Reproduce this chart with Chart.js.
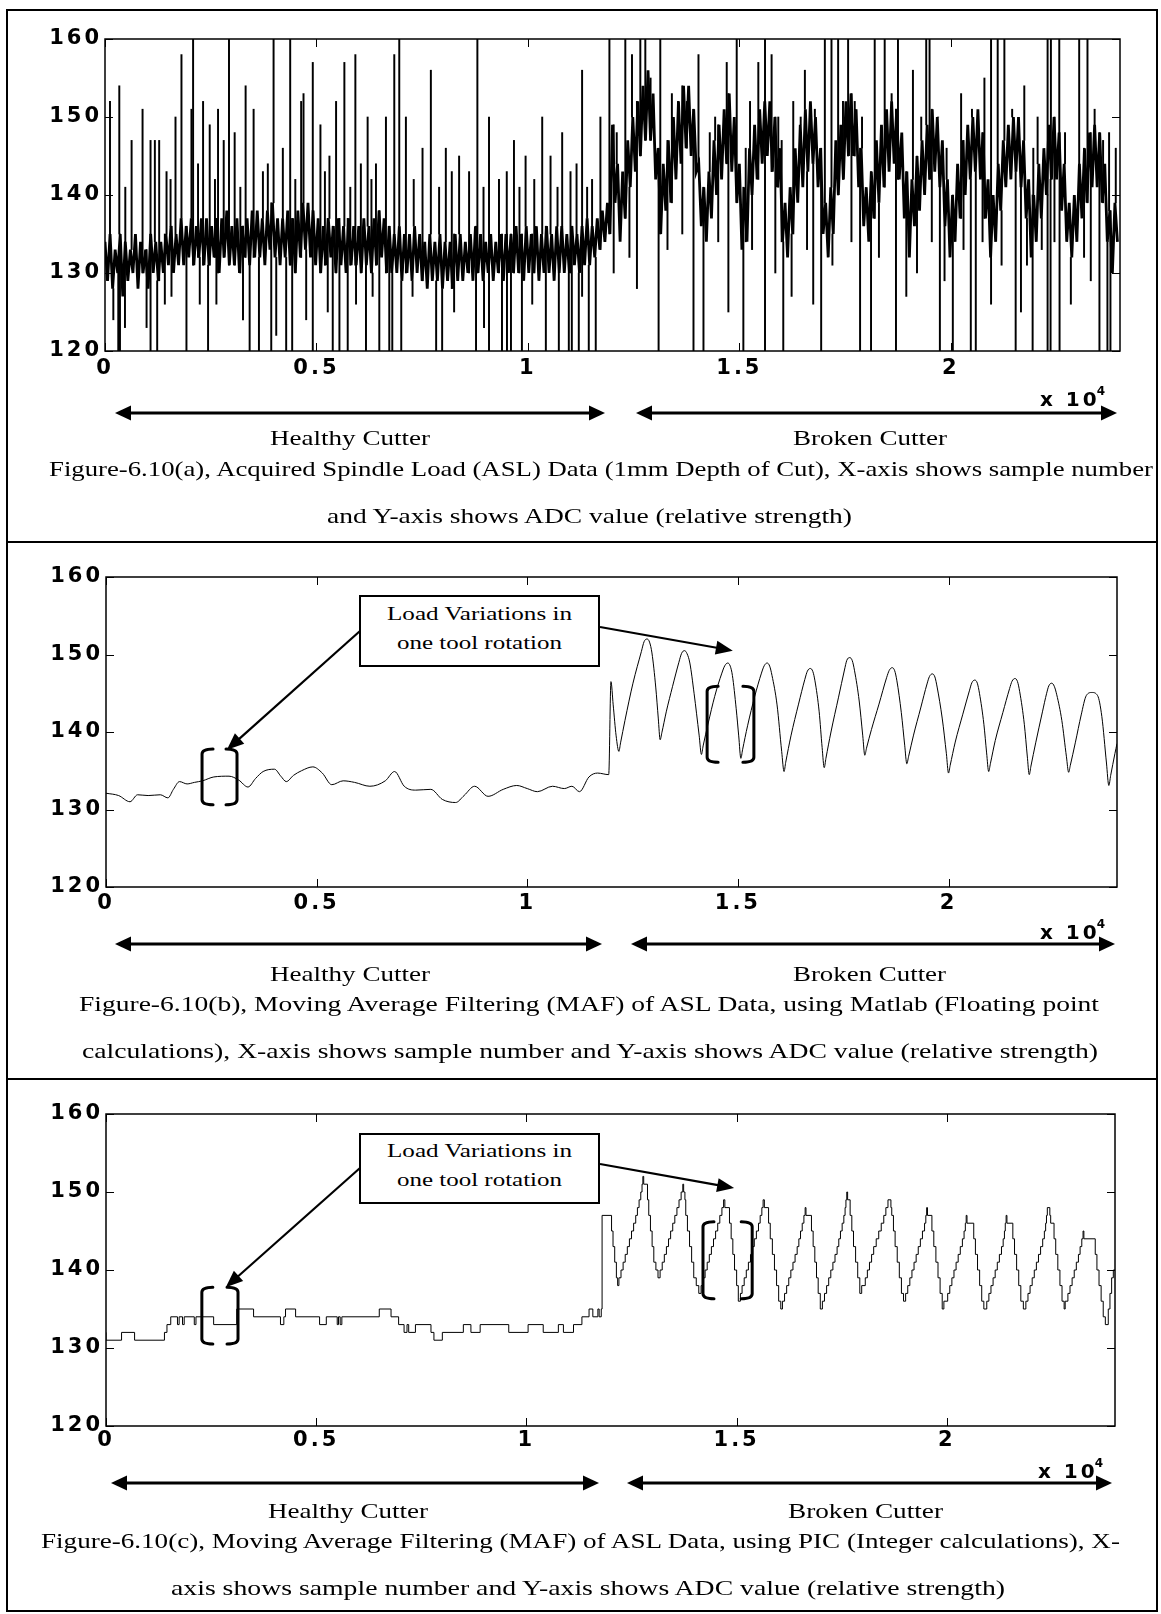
<!DOCTYPE html>
<html>
<head>
<meta charset="utf-8">
<script src="https://cdn.jsdelivr.net/npm/chart.js@4.4.1/dist/chart.umd.min.js"></script>
<style>
  html, body { margin: 0; padding: 0; background: #fff; }
  #page { position: relative; width: 1161px; height: 1614px; overflow: hidden; background: #fff; }
  #page canvas { position: absolute; left: 0; }
  .rule { position: absolute; background: #000; }
  .txt { position: absolute; white-space: nowrap; font-family: "Liberation Serif", "Times New Roman", serif; color: #000; line-height: 1; transform-origin: 0 50%; }
  .mult { position: absolute; white-space: nowrap; font-family: "DejaVu Sans", sans-serif; font-weight: bold; font-size: 20px; letter-spacing: 3px; line-height: 1; color: #000; }
  .mult sup { font-size: 12px; letter-spacing: 0; position: relative; top: -3px; margin-left: -3px; }
  .note { position: absolute; border: 2px solid #000; background: #fff; box-sizing: border-box; }
</style>
</head>
<body>
<div id="page">
  <canvas id="panelA"></canvas>
  <canvas id="panelB"></canvas>
  <canvas id="panelC"></canvas>
</div>
<script>
// ---------------- data ----------------
const sampleMax = 24000;
const xTickValues = [0, 5000, 10000, 15000, 20000];
const yTickValues = [120, 130, 140, 150, 160];

// (a) acquired spindle load: one reading every aStep samples
const aStep = 60;
const aCore = [
  134,129,135,128,133,130,135,127,134,129,133,130,135,128,134,130,133,128,135,130,
  134,129,134,130,135,131,136,130,135,131,137,131,136,132,137,131,136,132,137,131,
  137,131,136,132,137,130,137,132,138,131,136,131,137,130,136,132,137,131,138,132,
  138,132,137,131,138,133,139,132,137,131,137,132,138,131,137,130,138,132,139,133,
  139,132,138,131,137,130,136,131,137,132,136,130,137,131,136,130,137,131,136,131,
  136,130,137,131,136,130,137,131,138,132,137,130,136,130,135,130,136,129,135,130,
  135,129,136,130,135,129,134,128,135,129,134,129,135,128,134,129,134,128,135,129,
  135,129,134,130,135,129,136,130,135,129,134,130,135,129,134,130,135,129,135,130,
  135,130,136,130,135,129,136,130,135,130,136,129,135,130,136,130,135,129,136,130,
  136,130,135,130,136,131,135,130,136,131,137,131,136,132,137,133,138,134,139,135,
  149,139,144,134,143,137,147,141,150,143,152,145,154,147,156,147,153,142,146,135,
  144,138,147,139,150,142,152,144,154,146,154,145,151,143,144,136,141,134,143,137,
  147,140,149,142,151,144,153,143,150,139,144,133,141,134,146,140,149,142,151,144,
  152,145,152,143,150,141,146,134,139,132,141,135,146,139,149,141,151,143,152,144,
  150,141,146,135,139,132,141,135,147,140,149,142,152,145,153,145,151,141,146,136,
  141,134,143,137,147,139,149,141,151,143,152,144,151,142,148,137,143,132,142,136,
  145,138,147,140,149,142,151,143,150,141,147,136,142,132,140,134,144,137,147,140,
  149,142,150,143,151,142,148,137,142,132,140,134,144,138,147,141,149,142,150,143,
  150,141,147,137,142,132,140,134,144,137,146,140,149,142,150,142,148,138,144,134,
  139,132,140,134,144,137,146,139,148,141,149,141,148,139,144,134,138,130,139,134
];

// (a) isolated spikes: sample number and extreme reading
const aSpikeX = [
  // upward, healthy cutter
  118,338,480,629,888,1077,1179,1281,1455,1550,1667,1808,2044,2083,2200,2319,2476,2600,2673,2807,
  2932,3066,3200,3325,3514,3734,3850,3986,4205,4379,4500,4638,4694,4913,5094,5200,5307,5464,5660,5800,
  5920,6050,6210,6300,6407,6643,6840,6958,7115,7300,7508,7705,7900,8059,8200,8373,8609,8805,8950,9080,
  9316,9500,9670,9800,9945,10150,10338,10535,10700,10810,11007,11150,11281,11400,11517,11714,11927,
  // downward, healthy cutter
  197,314,354,472,983,1077,1234,1415,1572,1926,2241,2437,2634,3263,3420,3640,3931,4049,4284,4426,
  4757,4913,5267,5385,5543,5739,5936,6171,6328,6486,6722,6793,7005,7272,7830,7972,8255,8773,8962,9080,
  9387,9505,9599,9858,10102,10424,10731,10967,11038,11203,11281,11439,11604,
  // upward, broken cutter
  12100,12303,12461,12658,12776,12900,13130,13404,13550,13757,14033,14300,14427,14701,14937,15150,15252,15448,15606,15762,
  15920,16000,16274,16450,16549,16785,17021,17178,17335,17450,17571,17728,17900,18200,18436,18600,18750,19104,19300,19418,
  19497,19700,19900,20243,20500,20794,20951,21108,21266,21450,21737,21950,22052,22288,22366,22564,22700,23035,23231,23400,
  23600,23742,23900,
  // downward, broken cutter
  12028,12400,12578,13090,13300,13650,13915,14151,14500,14740,15094,15300,15606,15850,16038,16235,16600,16746,16934,17200,
  17650,17854,18113,18300,18703,18947,19200,19550,19741,19851,20047,20300,20472,20590,20750,20951,21200,21533,21658,21800,
  21934,22150,22288,22358,22450,22571,22838,23150,23309,23514,23703,23774
];
const aSpikeY = [
  152,154,141,147,151,147,147,147,143,142,150,158,151,160,144,152,149,142,151,147,
  160,148,141,154,151,143,144,160,146,160,142,152,153,157,149,143,145,152,157,141,
  158,144,150,142,144,150,158,160,150,142,146,156,141,146,143,145,143,160,141,150,
  142,143,147,141,145,142,150,145,141,148,143,144,156,141,142,150,160,
  124,120,120,123,123,120,120,126,127,120,126,120,126,124,120,120,120,122,120,120,
  124,120,125,120,120,120,126,120,127,120,120,120,120,127,120,120,125,120,123,120,
  120,120,120,120,126,120,120,120,120,120,127,120,120,
  148,160,158,160,160,155,160,153,151,152,158,148,150,157,160,146,152,157,160,158,
  150,147,152,150,156,151,160,160,160,152,160,152,150,160,160,153,160,156,150,160,
  160,150,146,153,151,155,160,160,160,151,154,146,150,160,160,160,148,160,160,151,
  147,148,146,
  130,132,128,120,133,135,120,120,134,125,120,133,120,130,120,127,133,126,120,131,
  134,120,120,132,120,127,130,134,120,129,120,133,120,120,134,126,131,120,125,131,
  120,133,120,120,134,120,126,132,129,120,120,120
];

// (b) moving average, floating point
const bX = [
  0,300,570,750,1000,1290,1470,1600,1745,1925,2100,2290,2560,2920,3150,3370,3550,3730,4000,4150,
  4280,4450,4640,4910,5135,5360,5630,5900,6265,6630,6850,7080,7350,7710,7985,8300,8500,8750,9070,9430,
  9750,10000,10240,10600,10880,11060,11240,11465,11670,11934,
  11987,12040,12110,12175,12215,12320,12510,12710,12773,12843,12903,12960,13050,13110,13155,
  13195,13300,13450,13600,13664,13734,13794,13860,13960,14080,14135,
  14175,14290,14450,14620,14689,14759,14819,14870,14960,15020,15071,
  15111,15230,15400,15560,15625,15695,15755,15810,15930,16040,16096,
  16136,16260,16440,16590,16650,16720,16780,16830,16930,17000,17050,
  17090,17210,17390,17530,17586,17656,17716,17770,17880,17965,18013,
  18053,18170,18350,18530,18593,18663,18723,18775,18880,18960,19011,
  19051,19170,19340,19490,19547,19617,19677,19730,19850,19950,20000,
  20040,20160,20340,20500,20554,20624,20684,20735,20840,20905,20954,
  20994,21110,21290,21450,21508,21578,21638,21690,21800,21870,21917,
  21957,22070,22230,22330,22381,22451,22511,22570,22690,22800,22852,
  22892,23010,23150,23271,23405,23539,23640,23750,23806,
  23850,23950,24000
];
const bY = [
  132.1,131.8,131.0,131.9,131.8,131.9,131.5,132.6,133.6,133.3,133.5,133.7,134.2,134.3,133.8,132.9,134.0,134.9,135.2,134.3,
  133.6,134.4,135.0,135.5,134.7,133.2,133.7,133.5,133.0,133.7,134.9,133.0,132.5,132.6,131.3,130.9,131.8,133.0,131.7,132.6,
  133.1,132.7,132.3,133.0,132.7,133.0,132.3,134.2,134.7,134.5,
  146.5,143.5,139.5,137.5,138.6,141.5,146.3,150.4,151.65,152.0,151.6,150.2,145.8,141.8,139.0,
  139.9,142.6,145.9,149.0,150.15,150.5,150.1,148.9,145.0,139.6,137.1,
  138.2,141.0,144.6,147.6,148.55,148.9,148.5,147.3,143.0,139.5,136.6,
  137.7,140.8,144.6,147.6,148.55,148.9,148.5,147.3,143.5,137.5,134.9,
  136.1,139.5,143.6,146.8,147.85,148.2,147.8,146.6,142.6,138.0,135.4,
  136.6,140.0,144.5,148.0,149.25,149.6,149.2,147.9,144.0,139.5,137.0,
  137.9,140.3,143.6,147.0,147.95,148.3,147.9,146.6,142.5,138.3,135.9,
  136.8,139.6,143.1,146.2,147.15,147.5,147.1,145.8,141.8,137.2,134.7,
  135.7,138.7,142.3,145.4,146.35,146.7,146.3,145.0,141.0,137.3,134.9,
  135.9,138.9,142.5,145.6,146.55,146.9,146.5,145.2,141.0,136.9,134.5,
  135.6,138.6,142.6,145.0,145.95,146.3,145.9,144.8,141.5,136.8,134.8,
  135.7,138.6,142.2,144.7,145.1,144.7,142.0,136.0,133.1,
  134.4,137.2,138.5
];

// (c) moving average, integer arithmetic (value holds until the next sample listed)
const cX = [
  0,370,680,1390,1450,1540,1700,1740,1820,1860,2100,2140,2560,3110,3510,4150,4230,4270,4510,5080,
  5240,5500,5530,5570,5610,6500,6780,6960,7090,7160,7200,7360,7730,7800,8000,8500,8680,8900,9580,10040,
  10400,10760,10880,11120,11320,11490,11580,11700,11730,11780,11800,
  12025,12060,12100,12140,12170,12200,12250,12300,12350,12400,12450,12500,12550,12600,12640,12680,12720,12750,12770,12790,
  12880,12910,12950,12990,13030,13080,13130,13180,13230,13280,13330,13380,13430,13480,13530,13580,13630,13680,13720,13740,
  13770,13790,13830,13880,13930,13980,14040,14100,14155,14200,14250,14300,14350,14400,14450,14500,14550,14600,14650,14690,
  14720,14830,14870,14910,14950,15000,15040,15090,15130,15180,15230,15280,15330,15380,15420,15470,15520,15560,15600,15630,
  15660,15760,15800,15850,15900,15950,16000,16050,16090,16140,16190,16240,16290,16340,16390,16440,16480,16520,16560,16600,
  16630,16650,16780,16820,16860,16900,16940,16990,17040,17090,17140,17190,17240,17290,17340,17390,17430,17470,17510,17550,
  17580,17600,17620,17640,17700,17740,17780,17830,17880,17930,17975,18060,18110,18160,18210,18260,18320,18380,18440,18500,
  18550,18600,18670,18690,18730,18770,18820,18870,18920,18970,19020,19070,19120,19170,19220,19270,19320,19370,19420,19470,
  19500,19520,19540,19645,19690,19740,19790,19840,19890,19930,20020,20070,20120,20170,20220,20270,20320,20370,20410,20440,
  20460,20480,20640,20680,20730,20780,20830,20880,20950,21000,21050,21100,21150,21200,21250,21300,21340,21370,21390,21410,
  21430,21570,21610,21660,21710,21760,21820,21880,21930,21980,22030,22080,22130,22180,22230,22280,22320,22350,22370,22390,
  22450,22470,22550,22590,22640,22690,22740,22790,22815,22880,22930,22980,23030,23080,23130,23170,23210,23240,23260,23530,
  23570,23620,23670,23720,23770,23840,23880,23920,23960,24000
];
const cY = [
  132,131,132,131,132,133,134,133,134,133,134,133,134,133,135,134,133,134,135,134,
  133,134,133,134,133,134,135,134,133,132,133,132,133,132,131,132,133,132,133,132,
  133,132,133,132,133,134,135,134,135,134,135,
  147,145,143,141,139,138,139,140,141,142,143,144,145,146,147,148,149,150,151,152,
  151,149,147,145,143,141,140,139,140,141,142,143,144,145,146,147,148,149,150,151,
  150,149,147,145,143,141,139,138,137,138,139,140,141,142,143,144,145,146,147,148,
  149,148,146,144,142,140,138,136,137,138,139,140,141,142,143,144,145,146,147,148,
  149,148,146,144,142,140,138,136,135,136,137,138,139,140,141,142,143,144,145,146,
  147,148,147,145,143,141,139,137,135,136,137,138,139,140,141,142,143,144,145,146,
  147,148,149,150,149,147,145,143,141,139,137,138,139,140,141,142,143,144,145,146,
  147,148,149,148,147,145,143,141,139,137,136,137,138,139,140,141,142,143,144,145,
  146,147,148,147,145,143,141,139,137,135,136,137,138,139,140,141,142,143,144,145,
  146,147,146,144,142,140,138,136,135,136,137,138,139,140,141,142,143,144,145,146,
  147,146,144,142,140,138,136,135,136,137,138,139,140,141,142,143,144,145,146,147,
  148,147,146,144,142,140,138,136,135,136,137,138,139,140,141,142,143,144,145,144,
  142,140,138,136,134,133,135,137,139,140
];

// ---------------- layout helpers ----------------
const page = document.getElementById('page');

function rule(x, y, w, h) {
  const d = document.createElement('div');
  d.className = 'rule';
  Object.assign(d.style, { left: x + 'px', top: y + 'px', width: w + 'px', height: h + 'px' });
  page.appendChild(d);
}

// serif text squeezed or stretched to span x0..x1, centred on cy
function placeText(str, x0, x1, cy, size) {
  const el = document.createElement('div');
  el.className = 'txt';
  el.style.fontSize = size + 'px';
  el.textContent = str;
  page.appendChild(el);
  const w = el.getBoundingClientRect().width;
  el.style.left = x0 + 'px';
  el.style.top = (cy - size / 2) + 'px';
  el.style.transform = 'scaleX(' + ((x1 - x0) / w).toFixed(4) + ')';
}

function placeMultiplier(x, cy) {
  const el = document.createElement('div');
  el.className = 'mult';
  el.innerHTML = 'x 10<sup>4</sup>';
  el.style.left = x + 'px';
  el.style.top = (cy - 10) + 'px';
  page.appendChild(el);
}

function placeNote(x, y, w, h, lines) {
  const d = document.createElement('div');
  d.className = 'note';
  Object.assign(d.style, { left: x + 'px', top: y + 'px', width: w + 'px', height: h + 'px' });
  page.appendChild(d);
  lines.forEach(l => placeText(l.text, l.x0, l.x1, l.cy, 19));
}

// ---------------- drawing helpers ----------------
function arrowHead(ctx, x0, y0, x1, y1, len, half) {
  const a = Math.atan2(y1 - y0, x1 - x0);
  ctx.beginPath();
  ctx.moveTo(x1, y1);
  ctx.lineTo(x1 - len * Math.cos(a) + half * Math.sin(a), y1 - len * Math.sin(a) - half * Math.cos(a));
  ctx.lineTo(x1 - len * Math.cos(a) - half * Math.sin(a), y1 - len * Math.sin(a) + half * Math.cos(a));
  ctx.closePath();
  ctx.fill();
}

function arrowLine(ctx, x0, y0, x1, y1, lw, len, half, both) {
  const a = Math.atan2(y1 - y0, x1 - x0);
  const sx = both ? x0 + (len - 2) * Math.cos(a) : x0;
  const sy = both ? y0 + (len - 2) * Math.sin(a) : y0;
  ctx.lineWidth = lw;
  ctx.beginPath();
  ctx.moveTo(sx, sy);
  ctx.lineTo(x1 - (len - 2) * Math.cos(a), y1 - (len - 2) * Math.sin(a));
  ctx.stroke();
  arrowHead(ctx, x0, y0, x1, y1, len, half);
  if (both) arrowHead(ctx, x1, y1, x0, y0, len, half);
}

const tickFont = { family: '"DejaVu Sans", sans-serif', size: 21, weight: 'bold' };

const tickSpacing = {
  id: 'tickSpacing',
  beforeDraw(chart) { chart.ctx.letterSpacing = '3px'; },
  afterDraw(chart) { chart.ctx.letterSpacing = '0px'; }
};

// axes box with inward ticks, plus the panel's bracket / arrow marks
function framePlugin(marks, canvasTop) {
  return {
    id: 'axesFrame',
    afterDatasetsDraw(chart) {
      const { ctx, chartArea: a, scales: { x, y } } = chart;
      ctx.save();
      ctx.strokeStyle = '#000';
      ctx.fillStyle = '#000';
      ctx.lineWidth = 1.5;
      ctx.strokeRect(a.left, a.top, a.right - a.left, a.bottom - a.top);
      const tl = 8;
      ctx.lineWidth = 1;
      ctx.beginPath();
      xTickValues.forEach(v => {
        const px = Math.round(x.getPixelForValue(v)) + 0.5;
        ctx.moveTo(px, a.bottom); ctx.lineTo(px, a.bottom - tl);
        ctx.moveTo(px, a.top); ctx.lineTo(px, a.top + tl);
      });
      yTickValues.forEach(v => {
        const py = Math.round(y.getPixelForValue(v)) + 0.5;
        ctx.moveTo(a.left, py); ctx.lineTo(a.left + tl, py);
        ctx.moveTo(a.right, py); ctx.lineTo(a.right - tl, py);
      });
      ctx.stroke();

      // square brackets around one tool rotation
      ctx.lineWidth = 3;
      ctx.lineCap = 'round';
      ctx.lineJoin = 'round';
      (marks.brackets || []).forEach(b => {
        const l = x.getPixelForValue(b.x0), r = x.getPixelForValue(b.x1);
        const t = y.getPixelForValue(b.top), bt = y.getPixelForValue(b.bottom);
        const arm = 11;
        ctx.beginPath();
        ctx.moveTo(l + arm, t); ctx.quadraticCurveTo(l, t, l, t + 5);
        ctx.lineTo(l, bt - 5); ctx.quadraticCurveTo(l, bt, l + arm, bt);
        ctx.moveTo(r - arm, t); ctx.quadraticCurveTo(r, t, r, t + 5);
        ctx.lineTo(r, bt - 5); ctx.quadraticCurveTo(r, bt, r - arm, bt);
        ctx.stroke();
      });

      // pointers from the note box to the brackets
      ctx.lineCap = 'butt';
      (marks.pointers || []).forEach(p => {
        const tx = x.getPixelForValue(p.tipX), ty = y.getPixelForValue(p.tipY);
        arrowLine(ctx, p.fromX, p.fromY - canvasTop, tx, ty, 2.2, 17, 7, false);
      });

      // Healthy / Broken spans under the axis
      (marks.spans || []).forEach(s => {
        arrowLine(ctx, s.x0, s.y - canvasTop, s.x1, s.y - canvasTop, 3, 16, 7.5, true);
      });
      ctx.restore();
    }
  };
}

function makePanel(id, top, height, plot, xLabelPad, datasets, marks) {
  const canvas = document.getElementById(id);
  canvas.width = 1161;
  canvas.height = height;
  canvas.style.width = '1161px';
  canvas.style.height = height + 'px';
  canvas.style.top = top + 'px';
  const xAxisH = 40;
  const padTop = plot.top - top;
  const padBottom = height - (plot.bottom - top) - xAxisH;
  return new Chart(canvas, {
    type: 'line',
    data: { datasets },
    options: {
      responsive: false,
      animation: false,
      devicePixelRatio: 1,
      events: [],
      layout: { padding: { left: 0, right: 1161 - plot.right, top: padTop, bottom: padBottom } },
      plugins: { legend: { display: false }, tooltip: { enabled: false } },
      scales: {
        x: {
          type: 'linear', min: 0, max: sampleMax, offset: false,
          afterBuildTicks: s => { s.ticks = xTickValues.map(v => ({ value: v })); },
          afterFit: s => { s.height = xAxisH; },
          grid: { display: false, drawTicks: false, offset: false },
          border: { display: false },
          ticks: { font: tickFont, color: '#000', padding: xLabelPad, maxRotation: 0, autoSkip: false,
                   callback: v => String(v / 10000) }
        },
        y: {
          type: 'linear', min: 120, max: 160, beginAtZero: false,
          afterBuildTicks: s => { s.ticks = yTickValues.map(v => ({ value: v })); },
          afterFit: s => { s.width = plot.left; },
          grid: { display: false, drawTicks: false },
          border: { display: false },
          ticks: { font: tickFont, color: '#000', padding: 3 }
        }
      }
    },
    plugins: [tickSpacing, framePlugin(marks, top)]
  });
}

const lineStyle = { borderColor: '#000', borderWidth: 1, pointRadius: 0, fill: false };

// ---------------- page frame ----------------
rule(6, 9, 1152, 2);       // top
rule(6, 9, 2, 1603);       // left
rule(1156, 9, 2, 1603);    // right
rule(6, 1610, 1152, 2);    // bottom
rule(6, 541, 1152, 2);     // between (a) and (b)
rule(6, 1078, 1152, 2);    // between (b) and (c)

// ---------------- panel (a) ----------------
makePanel('panelA', 12, 528, { left: 105, right: 1120, top: 39, bottom: 351 }, 5, [
  Object.assign({ type: 'line', tension: 0,
    data: aCore.map((v, i) => ({ x: i * aStep, y: v })) }, lineStyle, { borderWidth: 2.8 }),
  { type: 'bar', backgroundColor: '#000', borderWidth: 0, barThickness: 1.3,
    data: aSpikeX.map((sx, i) => ({ x: sx, y: [aCore[Math.min(aCore.length - 1, Math.round(sx / aStep))], aSpikeY[i]] })) }
], {
  spans: [{ x0: 115, x1: 605, y: 413 }, { x0: 636, x1: 1117, y: 413 }]
});
placeMultiplier(1040, 398);
placeText('Healthy Cutter', 270, 430, 438, 21);
placeText('Broken Cutter', 793, 947, 438, 21);
placeText('Figure-6.10(a), Acquired Spindle Load (ASL) Data (1mm Depth of Cut), X-axis shows sample number', 49, 1153, 469, 21);
placeText('and Y-axis shows ADC value (relative strength)', 327, 852, 516, 21);

// ---------------- panel (b) ----------------
makePanel('panelB', 543, 535, { left: 106, right: 1117, top: 577, bottom: 887 }, 4, [
  Object.assign({ type: 'line', cubicInterpolationMode: 'monotone',
    data: bX.map((v, i) => ({ x: v, y: bY[i] })) }, lineStyle)
], {
  brackets: [{ x0: 2280, x1: 3110, top: 137.8, bottom: 130.6 }, { x0: 14270, x1: 15380, top: 145.9, bottom: 136.1 }],
  pointers: [{ fromX: 360, fromY: 631, tipX: 2870, tipY: 137.7 }, { fromX: 600, fromY: 627, tipX: 14880, tipY: 150.5 }],
  spans: [{ x0: 115, x1: 602, y: 944 }, { x0: 631, x1: 1115, y: 944 }]
});
placeNote(359, 595, 241, 72, [
  { text: 'Load Variations in', x0: 387, x1: 572, cy: 613 },
  { text: 'one tool rotation', x0: 397, x1: 562, cy: 642 }
]);
placeMultiplier(1040, 931);
placeText('Healthy Cutter', 270, 430, 974, 21);
placeText('Broken Cutter', 793, 946, 974, 21);
placeText('Figure-6.10(b), Moving Average Filtering (MAF) of ASL Data, using Matlab (Floating point', 79, 1099, 1004, 21);
placeText('calculations), X-axis shows sample number and Y-axis shows ADC value (relative strength)', 82, 1098, 1051, 21);

// ---------------- panel (c) ----------------
makePanel('panelC', 1080, 530, { left: 106, right: 1115, top: 1114, bottom: 1426 }, 2, [
  Object.assign({ type: 'line', stepped: 'after',
    data: cX.map((v, i) => ({ x: v, y: cY[i] })) }, lineStyle)
], {
  brackets: [{ x0: 2280, x1: 3140, top: 137.8, bottom: 130.5 }, { x0: 14200, x1: 15370, top: 146.2, bottom: 136.3 }],
  pointers: [{ fromX: 360, fromY: 1168, tipX: 2850, tipY: 137.8 }, { fromX: 600, fromY: 1164, tipX: 14940, tipY: 150.5 }],
  spans: [{ x0: 111, x1: 599, y: 1483 }, { x0: 627, x1: 1112, y: 1483 }]
});
placeNote(359, 1133, 241, 71, [
  { text: 'Load Variations in', x0: 387, x1: 572, cy: 1150 },
  { text: 'one tool rotation', x0: 397, x1: 562, cy: 1179 }
]);
placeMultiplier(1038, 1470);
placeText('Healthy Cutter', 268, 428, 1511, 21);
placeText('Broken Cutter', 788, 943, 1511, 21);
placeText('Figure-6.10(c), Moving Average Filtering (MAF) of ASL Data, using PIC (Integer calculations), X-', 41, 1120, 1541, 21);
placeText('axis shows sample number and Y-axis shows ADC value (relative strength)', 171, 1005, 1588, 21);
</script>
</body>
</html>
